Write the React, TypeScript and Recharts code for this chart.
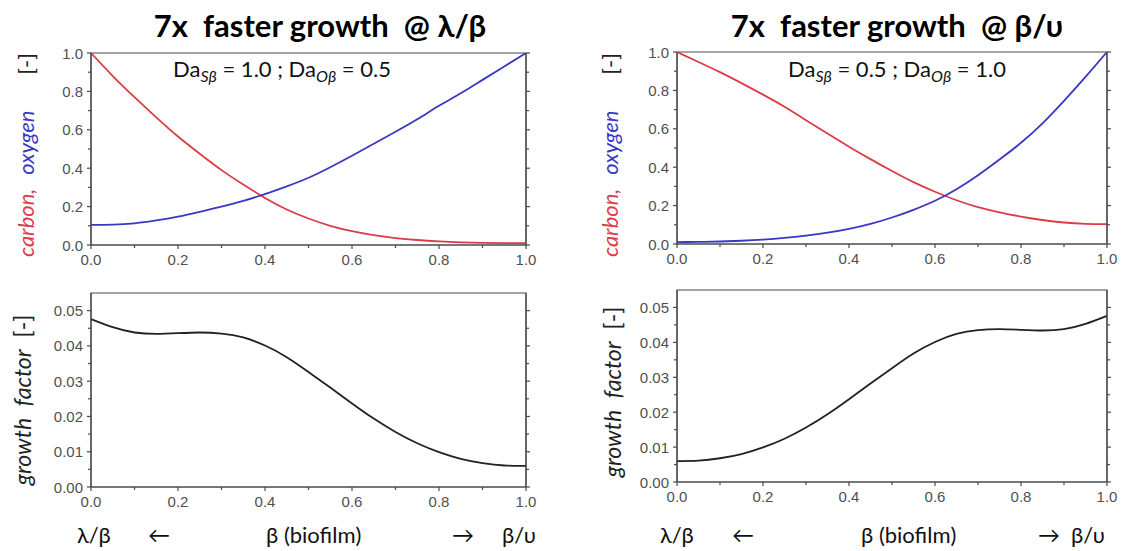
import { LineChart, Line, XAxis, YAxis, ReferenceArea } from "recharts";

const xs = [0, 0.05, 0.1, 0.15, 0.2, 0.25, 0.3, 0.35, 0.4, 0.45, 0.5, 0.55, 0.6, 0.65, 0.7, 0.75, 0.8, 0.85, 0.9, 0.95, 1.0];

// left panel: faster growth at lambda/beta
const carbonLeft = [1.0, 0.88, 0.77, 0.665, 0.565, 0.475, 0.39, 0.315, 0.245, 0.185, 0.138, 0.1, 0.072, 0.051, 0.036, 0.026, 0.019, 0.014, 0.011, 0.01, 0.01];
const oxygenLeft = [0.105, 0.106, 0.113, 0.128, 0.148, 0.173, 0.2, 0.23, 0.265, 0.305, 0.35, 0.405, 0.465, 0.527, 0.59, 0.655, 0.725, 0.79, 0.86, 0.93, 1.0];
const growthLeft = [0.0476, 0.0453, 0.0438, 0.0434, 0.0436, 0.0438, 0.0435, 0.0424, 0.0401, 0.0368, 0.0326, 0.0282, 0.0237, 0.0194, 0.0156, 0.0124, 0.0099, 0.008, 0.0068, 0.0061, 0.006];

// right panel: faster growth at beta/upsilon
const carbonRight = [1.0, 0.948, 0.895, 0.838, 0.778, 0.715, 0.645, 0.575, 0.507, 0.442, 0.38, 0.322, 0.272, 0.228, 0.192, 0.165, 0.143, 0.125, 0.112, 0.105, 0.103];
const oxygenRight = [0.01, 0.011, 0.013, 0.017, 0.023, 0.032, 0.044, 0.059, 0.079, 0.105, 0.138, 0.178, 0.225, 0.285, 0.358, 0.44, 0.527, 0.628, 0.745, 0.87, 1.0];
const growthRight = [0.006, 0.0061, 0.0068, 0.008, 0.0099, 0.0124, 0.0156, 0.0194, 0.0237, 0.0282, 0.0326, 0.0368, 0.0401, 0.0424, 0.0435, 0.0438, 0.0436, 0.0434, 0.0438, 0.0453, 0.0476];

const xTicks = [0, 0.1, 0.2, 0.3, 0.4, 0.5, 0.6, 0.7, 0.8, 0.9, 1.0];
const xLabels = [0, 0.2, 0.4, 0.6, 0.8, 1.0];
const concTicks = [0, 0.1, 0.2, 0.3, 0.4, 0.5, 0.6, 0.7, 0.8, 0.9, 1.0];
const concLabels = [0, 0.2, 0.4, 0.6, 0.8, 1.0];
const growthTicks = [0, 0.005, 0.01, 0.015, 0.02, 0.025, 0.03, 0.035, 0.04, 0.045, 0.05];
const growthLabels = [0, 0.01, 0.02, 0.03, 0.04, 0.05];

const RED = "#dc3c48";
const BLUE = "#3838c4";
const AXIS = "#4a4a4a";
const TICK_FONT = "'Liberation Sans', Arial, sans-serif";
const TEXT_FONT = "Lato, 'Open Sans', sans-serif";

const concLeftData = xs.map((x, i) => ({ x, carbon: carbonLeft[i], oxygen: oxygenLeft[i] }));
const concRightData = xs.map((x, i) => ({ x, carbon: carbonRight[i], oxygen: oxygenRight[i] }));
const growthLeftData = xs.map((x, i) => ({ x, g: growthLeft[i] }));
const growthRightData = xs.map((x, i) => ({ x, g: growthRight[i] }));

function AxisTick(props: any) {
  const { x, y, payload, side, labels, digits } = props;
  const v = payload.value;
  const major = labels.some((l: number) => Math.abs(l - v) < 1e-9);
  const len = major ? 4 : 3;
  if (side === "bottom") {
    return (
      <g>
        <line x1={x} y1={y} x2={x} y2={y + len} stroke={AXIS} strokeWidth={1.2} />
        {major && (
          <text x={x} y={y + 20} textAnchor="middle" fill="#505050" fontSize={15} fontFamily={TICK_FONT}>
            {v.toFixed(digits)}
          </text>
        )}
      </g>
    );
  }
  if (side === "left") {
    return (
      <g>
        <line x1={x} y1={y} x2={x - len} y2={y} stroke={AXIS} strokeWidth={1.2} />
        {major && (
          <text x={x - 8} y={y + 5.5} textAnchor="end" fill="#505050" fontSize={15} fontFamily={TICK_FONT}>
            {v.toFixed(digits)}
          </text>
        )}
      </g>
    );
  }
  return <line x1={x} y1={y} x2={x + len} y2={y} stroke={AXIS} strokeWidth={1.2} />;
}

function Panel({
  data,
  left,
  top,
  width,
  height,
  margin,
  yDomain,
  yTicks,
  yLabels,
  yDigits,
  series,
}: any) {
  return (
    <div style={{ position: "absolute", left, top, width, height }}>
      <LineChart width={width} height={height} data={data} margin={margin}>
        <XAxis
          dataKey="x"
          type="number"
          domain={[0, 1]}
          ticks={xTicks}
          interval={0}
          height={20}
          tickSize={0}
          tickMargin={0}
          tickLine={false}
          axisLine={{ stroke: AXIS, strokeWidth: 1.2 }}
          tick={(p: any) => <AxisTick {...p} side="bottom" labels={xLabels} digits={1} />}
        />
        <YAxis
          type="number"
          domain={yDomain}
          ticks={yTicks}
          interval={0}
          width={40}
          allowDataOverflow
          tickSize={0}
          tickMargin={0}
          tickLine={false}
          axisLine={{ stroke: AXIS, strokeWidth: 1.2 }}
          tick={(p: any) => <AxisTick {...p} side="left" labels={yLabels} digits={yDigits} />}
        />
        <YAxis
          yAxisId="r"
          orientation="right"
          type="number"
          domain={yDomain}
          ticks={yTicks}
          interval={0}
          width={10}
          allowDataOverflow
          tickSize={0}
          tickMargin={0}
          tickLine={false}
          axisLine={{ stroke: AXIS, strokeWidth: 1.2 }}
          tick={(p: any) => <AxisTick {...p} side="right" labels={yLabels} digits={yDigits} />}
        />
        <ReferenceArea
          x1={0}
          x2={1}
          y1={yDomain[0]}
          y2={yDomain[1]}
          fill="none"
          stroke={AXIS}
          strokeWidth={1.2}
        />
        {series.map((s: any) => (
          <Line
            key={s.key}
            type="natural"
            dataKey={s.key}
            stroke={s.color}
            strokeWidth={1.8}
            dot={false}
            isAnimationActive={false}
          />
        ))}
      </LineChart>
    </div>
  );
}

function DaLabel({ x, s, o }: { x: number; s: string; o: string }) {
  return (
    <text x={x} y={77} fontSize={22} fontFamily={TEXT_FONT} fill="#111">
      Da
      <tspan fontSize={16} fontStyle="italic" dy={5}>Sβ</tspan>
      <tspan dy={-5}>{` = ${s} ; Da`}</tspan>
      <tspan fontSize={16} fontStyle="italic" dy={5}>Oβ</tspan>
      <tspan dy={-5}>{` = ${o}`}</tspan>
    </text>
  );
}

function ConcLabel({ x }: { x: number }) {
  return (
    <text
      transform={`translate(${x},155) rotate(-90)`}
      textAnchor="middle"
      dominantBaseline="central"
      fontSize={22}
      fontFamily={TEXT_FONT}
      fontStyle="italic"
    >
      <tspan fill={RED}>carbon,</tspan>
      <tspan fill={BLUE} dx={14}>oxygen</tspan>
      <tspan fill="#222" fontStyle="normal" dx={36}>[-]</tspan>
    </text>
  );
}

function GrowthLabel({ x, cy }: { x: number; cy: number }) {
  return (
    <text
      transform={`translate(${x},${cy}) rotate(-90)`}
      textAnchor="middle"
      dominantBaseline="central"
      fontSize={23}
      fontFamily={TEXT_FONT}
      fill="#222"
    >
      <tspan fontStyle="italic">growth</tspan>
      <tspan fontStyle="italic" dx={12}>factor</tspan>
      <tspan dx={12}>[-]</tspan>
    </text>
  );
}

function BottomLabels({ pos }: { pos: number[] }) {
  const parts = ["λ/β", "←", "β (biofilm)", "→", "β/υ"];
  return (
    <g>
      {parts.map((t, i) => (
        <text key={i} x={pos[i]} y={543} fontSize={22} fontFamily={TEXT_FONT} fill="#111">
          {t}
        </text>
      ))}
    </g>
  );
}

export default function App() {
  const redBlue = [
    { key: "carbon", color: RED },
    { key: "oxygen", color: BLUE },
  ];
  const black = [{ key: "g", color: "#222" }];
  return (
    <div style={{ position: "absolute", left: 0, top: 0, width: 1128, height: 551, background: "#fff", overflow: "hidden" }}>
      <Panel
        data={concLeftData}
        left={0}
        top={0}
        width={560}
        height={280}
        margin={{ top: 53, right: 24, bottom: 15, left: 51 }}
        yDomain={[0, 1]}
        yTicks={concTicks}
        yLabels={concLabels}
        yDigits={1}
        series={redBlue}
      />
      <Panel
        data={growthLeftData}
        left={0}
        top={280}
        width={560}
        height={271}
        margin={{ top: 13, right: 24, bottom: 44, left: 51 }}
        yDomain={[0, 0.055]}
        yTicks={growthTicks}
        yLabels={growthLabels}
        yDigits={2}
        series={black}
      />
      <Panel
        data={concRightData}
        left={560}
        top={0}
        width={568}
        height={280}
        margin={{ top: 52, right: 11, bottom: 16, left: 77 }}
        yDomain={[0, 1]}
        yTicks={concTicks}
        yLabels={concLabels}
        yDigits={1}
        series={redBlue}
      />
      <Panel
        data={growthRightData}
        left={560}
        top={280}
        width={568}
        height={271}
        margin={{ top: 10, right: 11, bottom: 49, left: 77 }}
        yDomain={[0, 0.055]}
        yTicks={growthTicks}
        yLabels={growthLabels}
        yDigits={2}
        series={black}
      />
      <svg width={1128} height={551} style={{ position: "absolute", left: 0, top: 0, pointerEvents: "none" }}>
        <text x={320} y={37} textAnchor="middle" fontSize={31} fontWeight="bold" fontFamily={TEXT_FONT} fill="#000" style={{ whiteSpace: "pre" }}>
          {"7x  faster growth  @ λ/β"}
        </text>
        <text x={897} y={37} textAnchor="middle" fontSize={31} fontWeight="bold" fontFamily={TEXT_FONT} fill="#000" style={{ whiteSpace: "pre" }}>
          {"7x  faster growth  @ β/υ"}
        </text>
        <DaLabel x={173} s="1.0" o="0.5" />
        <DaLabel x={788} s="0.5" o="1.0" />
        <ConcLabel x={25} />
        <ConcLabel x={609} />
        <GrowthLabel x={22} cy={400} />
        <GrowthLabel x={612} cy={392} />
        <BottomLabels pos={[77, 148, 266, 452, 502]} />
        <BottomLabels pos={[660, 732, 861, 1038, 1071]} />
      </svg>
    </div>
  );
}
